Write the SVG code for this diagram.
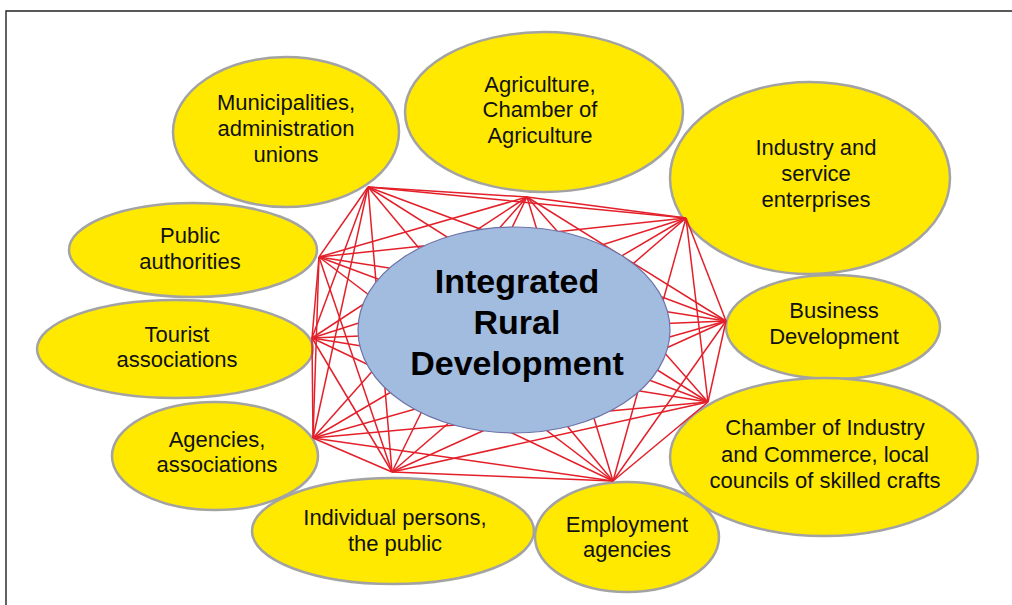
<svg xmlns="http://www.w3.org/2000/svg" width="1012" height="605" viewBox="0 0 1012 605">
<style>
.n{fill:#ffe900;stroke:#a3a3a3;stroke-width:2.5}
.t{font-family:"Liberation Sans",Arial,sans-serif;font-size:22px;fill:#111;text-anchor:middle}
.c{font-family:"Liberation Sans",Arial,sans-serif;font-size:34px;font-weight:bold;fill:#000;text-anchor:middle}
#links line{stroke:#e3202a;stroke-width:1.5}
</style>
<rect width="1012" height="605" fill="#fff"/>
<path d="M6 605V11H1012" fill="none" stroke="#222" stroke-width="1.4"/>
<g id="municipalities"><ellipse class="n" cx="286" cy="132" rx="113" ry="75"/><text class="t"><tspan x="286" y="110">Municipalities,</tspan><tspan x="286" y="136">administration</tspan><tspan x="286" y="162">unions</tspan></text></g>
<g id="agriculture"><ellipse class="n" cx="544" cy="112" rx="139" ry="80"/><text class="t"><tspan x="540" y="92">Agriculture,</tspan><tspan x="540" y="117">Chamber of</tspan><tspan x="540" y="143">Agriculture</tspan></text></g>
<g id="industry"><ellipse class="n" cx="810" cy="178" rx="140" ry="96"/><text class="t"><tspan x="816" y="155">Industry and</tspan><tspan x="816" y="181">service</tspan><tspan x="816" y="207">enterprises</tspan></text></g>
<g id="public"><ellipse class="n" cx="193" cy="250" rx="124" ry="47"/><text class="t"><tspan x="190" y="243">Public</tspan><tspan x="190" y="269">authorities</tspan></text></g>
<g id="tourist"><ellipse class="n" cx="175" cy="349" rx="138" ry="49"/><text class="t"><tspan x="177" y="342">Tourist</tspan><tspan x="177" y="367">associations</tspan></text></g>
<g id="business"><ellipse class="n" cx="833" cy="327" rx="107" ry="52"/><text class="t"><tspan x="834" y="318">Business</tspan><tspan x="834" y="344">Development</tspan></text></g>
<g id="agencies"><ellipse class="n" cx="215" cy="456" rx="103" ry="54"/><text class="t"><tspan x="217" y="447">Agencies,</tspan><tspan x="217" y="472">associations</tspan></text></g>
<g id="chamber"><ellipse class="n" cx="824" cy="457" rx="154" ry="79"/><text class="t"><tspan x="825" y="435">Chamber of Industry</tspan><tspan x="825" y="462">and Commerce, local</tspan><tspan x="825" y="488">councils of skilled crafts</tspan></text></g>
<g id="individual"><ellipse class="n" cx="393" cy="531" rx="141" ry="53"/><text class="t"><tspan x="395" y="525">Individual persons,</tspan><tspan x="395" y="551">the public</tspan></text></g>
<g id="employment"><ellipse class="n" cx="627" cy="537" rx="92" ry="55"/><text class="t"><tspan x="627" y="532">Employment</tspan><tspan x="627" y="557">agencies</tspan></text></g>
<g id="links">
<line x1="368" y1="187" x2="527" y2="197"/><line x1="368" y1="187" x2="686" y2="218"/><line x1="368" y1="187" x2="319" y2="257"/><line x1="368" y1="187" x2="312" y2="338"/><line x1="368" y1="187" x2="726" y2="321"/><line x1="368" y1="187" x2="313" y2="438"/><line x1="368" y1="187" x2="708" y2="402"/><line x1="368" y1="187" x2="392" y2="472"/><line x1="368" y1="187" x2="613" y2="481"/>
<line x1="527" y1="197" x2="686" y2="218"/><line x1="527" y1="197" x2="319" y2="257"/><line x1="527" y1="197" x2="312" y2="338"/><line x1="527" y1="197" x2="726" y2="321"/><line x1="527" y1="197" x2="313" y2="438"/><line x1="527" y1="197" x2="708" y2="402"/><line x1="527" y1="197" x2="392" y2="472"/><line x1="527" y1="197" x2="613" y2="481"/>
<line x1="686" y1="218" x2="319" y2="257"/><line x1="686" y1="218" x2="312" y2="338"/><line x1="686" y1="218" x2="726" y2="321"/><line x1="686" y1="218" x2="313" y2="438"/><line x1="686" y1="218" x2="708" y2="402"/><line x1="686" y1="218" x2="392" y2="472"/><line x1="686" y1="218" x2="613" y2="481"/>
<line x1="319" y1="257" x2="312" y2="338"/><line x1="319" y1="257" x2="726" y2="321"/><line x1="319" y1="257" x2="313" y2="438"/><line x1="319" y1="257" x2="708" y2="402"/><line x1="319" y1="257" x2="392" y2="472"/><line x1="319" y1="257" x2="613" y2="481"/>
<line x1="312" y1="338" x2="726" y2="321"/><line x1="312" y1="338" x2="313" y2="438"/><line x1="312" y1="338" x2="708" y2="402"/><line x1="312" y1="338" x2="392" y2="472"/><line x1="312" y1="338" x2="613" y2="481"/>
<line x1="726" y1="321" x2="313" y2="438"/><line x1="726" y1="321" x2="708" y2="402"/><line x1="726" y1="321" x2="392" y2="472"/><line x1="726" y1="321" x2="613" y2="481"/>
<line x1="313" y1="438" x2="708" y2="402"/><line x1="313" y1="438" x2="392" y2="472"/><line x1="313" y1="438" x2="613" y2="481"/>
<line x1="708" y1="402" x2="392" y2="472"/><line x1="708" y1="402" x2="613" y2="481"/>
<line x1="392" y1="472" x2="613" y2="481"/>
</g>
<g id="center"><ellipse cx="514" cy="330" rx="156" ry="103" fill="#a2bcdf" stroke="#6f73a8" stroke-width="1.2"/><text class="c"><tspan x="517" y="293">Integrated</tspan><tspan x="517" y="334">Rural</tspan><tspan x="517" y="375">Development</tspan></text></g>
</svg>
